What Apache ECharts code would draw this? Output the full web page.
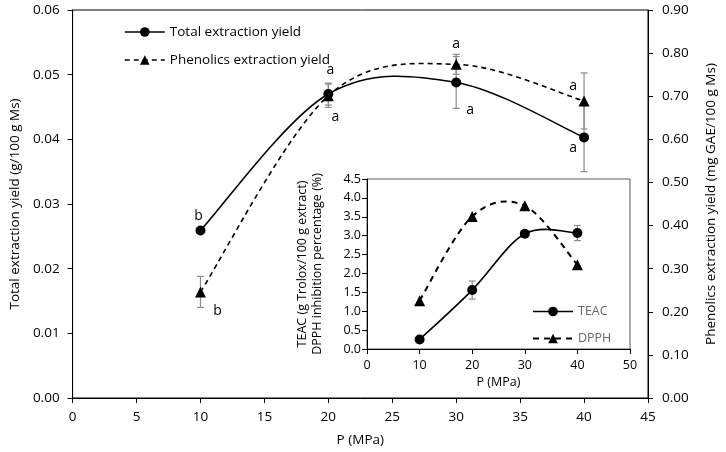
<!DOCTYPE html>
<html><head><meta charset="utf-8">
<script src="https://cdn.jsdelivr.net/npm/echarts@6/dist/echarts.min.js"></script>
<style>html,body{margin:0;padding:0;background:#fff}#c{width:726px;height:452px}</style>
</head><body><div id="c"></div>
<script>
// ---- data ----
const pressure = [10, 20, 30, 40];
const totalYield = [0.0259, 0.0470, 0.0488, 0.0403];
const totalErr = [0, 0.0017, 0.0040, 0.0053];
const totalLetters = ['b', 'a', 'a', 'a'];
const phenolicsYield = [0.246, 0.701, 0.774, 0.689];
const phenolicsErr = [0.036, 0.027, 0.023, 0.065];
const phenolicsLetters = ['b', 'a', 'a', 'a'];
const insetPressure = [10, 20, 30, 40];
const teac = [0.25, 1.56, 3.05, 3.07];
const teacErr = [0, 0.24, 0.08, 0.2];
const dpph = [1.28, 3.51, 3.79, 2.23];
const mainXTicks = [0, 45, 5];
const leftYTicks = [0, 0.06, 0.01];
const rightYTicks = [0, 0.9, 0.1];
const insetXTicks = [0, 50, 10];
const insetYTicks = [0, 4.5, 0.5];

const FONT = 'Open Sans';
const chart = echarts.init(document.getElementById('c'), null, {renderer: 'canvas'});

function errSeries(xs, ys, es, xAxisIndex, yAxisIndex, z) {
  return {
    type: 'custom', xAxisIndex, yAxisIndex, z, silent: true,
    data: xs.map((x, i) => [x, ys[i] - es[i], ys[i] + es[i]]).filter((d, i) => es[i] > 0),
    renderItem: (params, api) => {
      const lo = api.coord([api.value(0), api.value(1)]);
      const hi = api.coord([api.value(0), api.value(2)]);
      const w = 3.5;
      const st = {stroke: '#8c8c8c', lineWidth: 1.2};
      return {type: 'group', children: [
        {type: 'line', shape: {x1: lo[0], y1: lo[1], x2: hi[0], y2: hi[1]}, style: st},
        {type: 'line', shape: {x1: lo[0] - w, y1: lo[1], x2: lo[0] + w, y2: lo[1]}, style: st},
        {type: 'line', shape: {x1: hi[0] - w, y1: hi[1], x2: hi[0] + w, y2: hi[1]}, style: st}
      ]};
    }
  };
}

// Excel-like smoothed curve (Catmull-Rom in pixel space) through the data, via axis coords
function curveSeries(xs, ys, xAxisIndex, yAxisIndex, z, width, dash) {
  return {
    type: 'custom', xAxisIndex, yAxisIndex, z, silent: true, clip: false,
    data: xs.map((x, i) => [x, ys[i]]),
    renderItem: (params, api) => {
      if (params.dataIndex !== 0) return null;
      const P = xs.map((x, i) => api.coord([x, ys[i]]));
      const n = P.length;
      let d = 'M' + P[0][0] + ' ' + P[0][1];
      for (let i = 0; i < n - 1; i++) {
        const p0 = P[Math.max(i - 1, 0)], p1 = P[i], p2 = P[i + 1], p3 = P[Math.min(i + 2, n - 1)];
        const c1 = [p1[0] + (p2[0] - p0[0]) / 6, p1[1] + (p2[1] - p0[1]) / 6];
        const c2 = [p2[0] - (p3[0] - p1[0]) / 6, p2[1] - (p3[1] - p1[1]) / 6];
        d += ' C' + c1[0] + ' ' + c1[1] + ' ' + c2[0] + ' ' + c2[1] + ' ' + p2[0] + ' ' + p2[1];
      }
      return {type: 'path', shape: {pathData: d}, style: {stroke: '#000', fill: null, lineWidth: width, lineDash: dash}};
    }
  };
}

// label offsets (style) per series/index
const totalOffsets = [[-2, -14], [2, -24], [14, 28], [-11, 11]];
const phenOffsets = [[17, 19], [7, 21], [0, -20], [-11, -15]];
function letterSeries(xs, ys, letters, offsets, yAxisIndex) {
  return {
    type: 'custom', xAxisIndex: 0, yAxisIndex, z: 6, silent: true,
    data: xs.map((x, i) => [x, ys[i], i]),
    renderItem: (params, api) => {
      const i = api.value(2);
      const p = api.coord([api.value(0), api.value(1)]);
      return {type: 'text', x: p[0] + offsets[i][0], y: p[1] + offsets[i][1],
        style: {text: letters[i], fill: '#000', font: '14px ' + FONT, align: 'center', verticalAlign: 'middle'}};
    }
  };
}

const axisCommon = {
  axisLine: {show: true, lineStyle: {color: '#000', width: 1}},
  axisTick: {show: true, inside: false, length: 5, lineStyle: {color: '#000'}},
  splitLine: {show: false},
  axisLabel: {color: '#000', fontFamily: FONT, fontSize: 13.5},
  nameTextStyle: {color: '#000', fontFamily: FONT, fontSize: 13.5}
};

const markerSeries = (name, xs, ys, xAxisIndex, yAxisIndex, symbol, size, z) => ({
  name, type: 'line', xAxisIndex, yAxisIndex, z,
  data: xs.map((x, i) => [x, ys[i]]),
  symbol, symbolSize: size, itemStyle: {color: '#000'},
  lineStyle: {color: '#000', width: 1.6, opacity: 0}
});

const option = {
  animation: false,
  backgroundColor: '#fff',
  grid: [
    {left: 68, right: 67, top: 10, bottom: 54, show: true, borderColor: '#000', borderWidth: 1, backgroundColor: 'transparent', z: 0},
    {left: 367, right: 96, top: 179, bottom: 103, show: true, borderColor: '#595959', borderWidth: 1, backgroundColor: '#fff', z: 3}
  ],
  legend: [
    {
      data: [
        {name: 'Total extraction yield', lineStyle: {opacity: 1, width: 1.6, type: 'solid'}},
        {name: 'Phenolics extraction yield', lineStyle: {opacity: 1, width: 1.6, type: [5, 4]}}
      ],
      left: 124, top: 25, padding: 0, orient: 'vertical', itemWidth: 40, itemHeight: 12, itemGap: 14,
      textStyle: {color: '#000', fontFamily: FONT, fontSize: 13.5}, selectedMode: false
    },
    {
      data: [
        {name: 'TEAC', lineStyle: {opacity: 1, width: 1.6, type: 'solid'}},
        {name: 'DPPH', lineStyle: {opacity: 1, width: 2, type: [6, 5]}}
      ],
      left: 532, top: 305, padding: 0, orient: 'vertical', itemWidth: 40, itemHeight: 12, itemGap: 14,
      textStyle: {color: '#666', fontFamily: FONT, fontSize: 12.5}, selectedMode: false, z: 8
    }
  ],
  xAxis: [
    Object.assign({}, axisCommon, {
      type: 'value', gridIndex: 0, min: mainXTicks[0], max: mainXTicks[1], interval: mainXTicks[2],
      name: 'P (MPa)', nameLocation: 'middle', nameGap: 35,
      axisLabel: Object.assign({}, axisCommon.axisLabel, {margin: 12})
    }),
    Object.assign({}, axisCommon, {
      type: 'value', gridIndex: 1, min: insetXTicks[0], max: insetXTicks[1], interval: insetXTicks[2],
      name: 'P (MPa)', nameLocation: 'middle', nameGap: 27, z: 4,
      axisLabel: Object.assign({}, axisCommon.axisLabel, {fontSize: 12.5, margin: 10}),
      nameTextStyle: Object.assign({}, axisCommon.nameTextStyle, {fontSize: 12.5})
    })
  ],
  yAxis: [
    Object.assign({}, axisCommon, {
      type: 'value', gridIndex: 0, min: leftYTicks[0], max: leftYTicks[1], interval: leftYTicks[2],
      name: 'Total extraction yield (g/100 g Ms)', nameLocation: 'middle', nameGap: 48,
      axisLabel: Object.assign({}, axisCommon.axisLabel, {formatter: v => v.toFixed(2), margin: 13})
    }),
    Object.assign({}, axisCommon, {
      type: 'value', gridIndex: 0, position: 'right', min: rightYTicks[0], max: rightYTicks[1], interval: rightYTicks[2],
      name: 'Phenolics extraction yield (mg GAE/100 g Ms)', nameLocation: 'middle', nameGap: 56, nameRotate: 90,
      axisLabel: Object.assign({}, axisCommon.axisLabel, {formatter: v => v.toFixed(2), margin: 14})
    }),
    Object.assign({}, axisCommon, {
      type: 'value', gridIndex: 1, min: insetYTicks[0], max: insetYTicks[1], interval: insetYTicks[2], z: 4,
      name: 'TEAC (g Trolox/100 g extract)\nDPPH inhibition percentage (%)', nameLocation: 'middle', nameGap: 42,
      axisLabel: Object.assign({}, axisCommon.axisLabel, {fontSize: 12.5, formatter: v => v.toFixed(1), margin: 6}),
      nameTextStyle: Object.assign({}, axisCommon.nameTextStyle, {fontSize: 12.5, lineHeight: 15, color: '#000'})
    })
  ],
  series: [
    errSeries(pressure, totalYield, totalErr, 0, 0, 1),
    errSeries(pressure, phenolicsYield, phenolicsErr, 0, 1, 1),
    curveSeries(pressure, totalYield, 0, 0, 2, 1.6, null),
    curveSeries(pressure, phenolicsYield, 0, 1, 2, 1.6, [5, 4]),
    markerSeries('Total extraction yield', pressure, totalYield, 0, 0, 'circle', 10, 2),
    markerSeries('Phenolics extraction yield', pressure, phenolicsYield, 0, 1, 'triangle', 11, 2),
    letterSeries(pressure, totalYield, totalLetters, totalOffsets, 0),
    letterSeries(pressure, phenolicsYield, phenolicsLetters, phenOffsets, 1),
    errSeries(insetPressure, teac, teacErr, 1, 2, 5),
    curveSeries(insetPressure, teac, 1, 2, 6, 1.6, null),
    curveSeries(insetPressure, dpph, 1, 2, 6, 2, [6, 5]),
    markerSeries('TEAC', insetPressure, teac, 1, 2, 'circle', 10, 7),
    markerSeries('DPPH', insetPressure, dpph, 1, 2, 'triangle', 11, 7)
  ]
};
chart.setOption(option);
</script>
</body></html>
